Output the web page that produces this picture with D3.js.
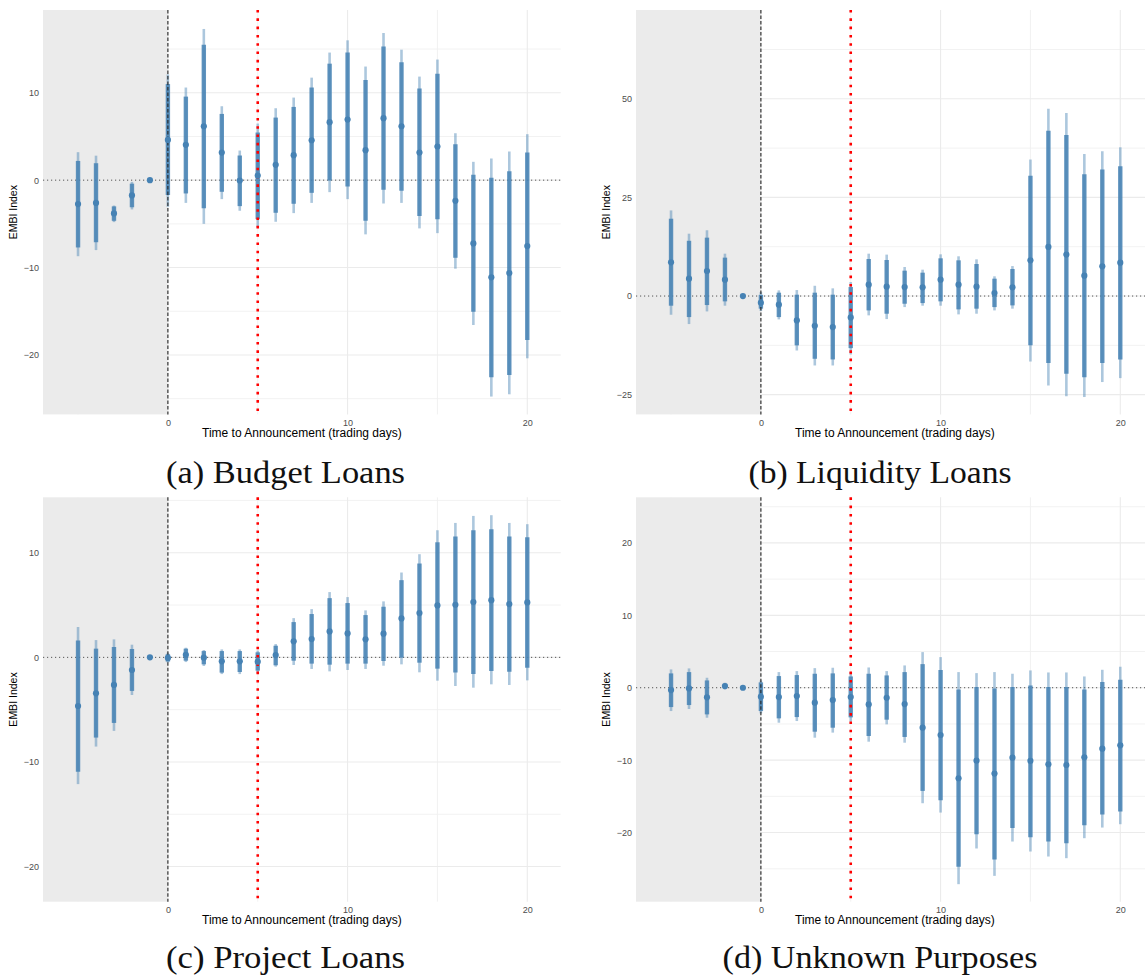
<!DOCTYPE html>
<html>
<head>
<meta charset="utf-8">
<script src="https://cdn.jsdelivr.net/npm/d3@7"></script>
<style>
  body { margin: 0; background: #fff; }
  svg { display: block; }
  .tick text { font-family: "Liberation Sans", Arial, sans-serif; fill: #4d4d4d; }
  .caption { font-family: "Liberation Serif", "Times New Roman", serif; fill: #111; }
</style>
</head>
<body>
<div id="chart"></div>
<script>
// trading days relative to announcement
var days = [-5, -4, -3, -2, -1, 0, 1, 2, 3, 4, 5, 6, 7, 8, 9, 10, 11, 12, 13, 14, 15, 16, 17, 18, 19, 20];
var xTicks = [0, 10, 20];

// (a) budget loans
var budgetEst    = [-2.74, -2.6, -3.8, -1.75, 0, 4.6, 4.04, 6.17, 3.16, -0.04, 0.53, 1.75, 2.86, 4.57, 6.63, 6.93, 3.43, 7.09, 6.17, 3.16, 3.85, -2.36, -7.24, -11.12, -10.63, -7.54];
var budgetHi90   = [2.2, 1.94, -3.0, -0.4, null, 11.0, 9.56, 15.5, 7.58, 2.82, 5.45, 7.16, 8.38, 10.6, 13.33, 14.6, 11.47, 15.28, 13.5, 10.48, 12.19, 4.11, 0.61, 0.27, 1.03, 3.16];
var budgetLo90   = [-7.7, -7.1, -4.65, -3.1, null, -1.7, -1.52, -3.2, -1.33, -2.97, -4.46, -3.73, -2.7, -1.45, -0.04, -0.72, -4.65, -1.1, -1.22, -4.11, -4.46, -8.88, -15.05, -22.55, -22.29, -18.29];
var budgetHi95   = [3.2, 2.8, -2.9, -0.2, null, 12.1, 10.6, 17.3, 8.46, 3.39, 6.48, 8.23, 9.45, 11.73, 14.6, 16.0, 13.0, 16.84, 14.93, 11.85, 13.8, 5.37, 2.1, 2.48, 3.28, 5.26];
var budgetLo95   = [-8.7, -8.0, -4.8, -3.35, null, -3.05, -2.6, -5.0, -2.17, -3.5, -5.4, -4.76, -3.77, -2.6, -1.37, -2.17, -6.2, -2.67, -2.6, -5.52, -6.06, -10.13, -16.57, -24.76, -24.5, -20.38];
var budgetTicks  = [-20, -10, 0, 10];

// (b) liquidity loans
var liquidityEst  = [8.54, 4.4, 6.35, 4.15, 0, -1.69, -2.2, -6.18, -7.53, -7.87, -5.41, 2.88, 2.37, 2.28, 2.2, 4.15, 2.88, 2.37, 0.76, 2.2, 9.05, 12.44, 10.5, 5.16, 7.53, 8.46];
var liquidityHi90 = [19.6, 14.0, 14.8, 9.73, null, 0.3, 0.85, 0.34, 0.85, 0.34, 2.28, 9.39, 9.14, 6.43, 5.92, 9.56, 9.05, 8.12, 4.4, 6.85, 30.46, 41.9, 40.8, 30.9, 32.1, 32.9];
var liquidityLo90 = [-2.45, -5.33, -2.28, -1.35, null, -3.2, -5.33, -12.5, -15.9, -16.07, -13.2, -3.64, -4.48, -1.95, -1.78, -1.35, -3.38, -3.2, -2.8, -2.37, -12.5, -17.0, -19.7, -20.6, -17.0, -16.07];
var liquidityHi95 = [21.7, 15.8, 16.67, 10.74, null, 1.0, 1.44, 1.52, 2.6, 1.95, 3.55, 10.74, 10.5, 7.36, 6.68, 10.57, 10.07, 9.3, 5.0, 7.6, 34.6, 47.5, 46.4, 36.0, 36.7, 37.7];
var liquidityLo95 = [-4.74, -7.1, -3.9, -2.45, null, -3.8, -5.92, -13.8, -17.6, -17.6, -14.8, -4.9, -5.84, -2.8, -2.45, -2.45, -4.65, -4.48, -3.64, -3.2, -16.6, -22.7, -25.4, -25.6, -21.8, -20.8];
var liquidityTicks = [-25, 0, 25, 50];

// (c) project loans
var projectEst  = [-4.65, -3.44, -2.64, -1.21, 0, -0.06, 0.25, -0.03, -0.38, -0.38, -0.41, 0.22, 1.53, 1.75, 2.48, 2.29, 1.72, 2.26, 3.72, 4.23, 4.96, 5.03, 5.28, 5.47, 5.09, 5.25];
var projectHi90 = [1.62, 0.83, 0.99, 0.8, null, 0.3, 0.83, 0.6, 0.6, 0.6, 0.48, 1.11, 3.37, 4.14, 5.66, 5.19, 4.04, 4.84, 7.38, 8.97, 11.0, 11.55, 12.15, 12.25, 11.55, 11.49];
var projectLo90 = [-10.94, -7.67, -6.27, -3.21, null, -0.4, -0.32, -0.67, -1.46, -1.4, -1.27, -0.76, -0.32, -0.6, -0.7, -0.6, -0.6, -0.35, -0.03, -0.51, -1.08, -1.46, -1.59, -1.3, -1.37, -0.99];
var projectHi95 = [2.9, 1.65, 1.72, 1.21, null, 0.45, 0.92, 0.7, 0.76, 0.76, 0.64, 1.27, 3.75, 4.61, 6.24, 5.76, 4.49, 5.35, 8.11, 9.86, 12.15, 12.85, 13.52, 13.59, 12.85, 12.73];
var projectLo95 = [-12.12, -8.53, -7.03, -3.6, null, -0.5, -0.45, -0.83, -1.6, -1.6, -1.46, -0.89, -0.73, -1.11, -1.34, -1.21, -1.11, -0.8, -0.67, -1.43, -2.23, -2.74, -2.9, -2.58, -2.64, -2.2];
var projectTicks = [-20, -10, 0, 10];

// (d) unknown purposes
var unknownEst  = [-0.32, -0.09, -1.33, 0.23, 0, -1.24, -1.29, -1.15, -2.07, -1.7, -1.29, -2.3, -1.38, -2.25, -5.52, -6.53, -12.5, -10.07, -11.86, -9.66, -10.11, -10.57, -10.67, -9.61, -8.41, -7.95];
var unknownHi90 = [1.98, 2.16, 1.01, 0.55, null, 0.74, 1.61, 1.75, 1.93, 1.98, 1.56, 1.93, 1.7, 2.16, 3.26, 2.44, -0.23, 0.09, -0.09, 0.09, 0.32, 0.09, 0.09, -0.23, 0.78, 1.1];
var unknownLo90 = [-2.67, -2.39, -3.68, -0.09, null, -3.22, -4.23, -4.05, -6.07, -5.52, -4.09, -6.67, -4.41, -6.8, -14.25, -15.54, -24.74, -20.23, -23.72, -19.36, -20.64, -21.24, -21.47, -18.99, -17.52, -17.1];
var unknownHi95 = [2.53, 2.67, 1.38, 0.69, null, 1.0, 2.16, 2.3, 2.71, 2.76, 2.16, 2.8, 2.3, 3.08, 4.92, 4.23, 2.16, 2.02, 2.16, 1.93, 2.39, 2.11, 2.11, 1.56, 2.48, 2.9];
var unknownLo95 = [-3.22, -2.94, -4.14, -0.23, null, -3.54, -4.83, -4.6, -6.9, -6.2, -4.69, -7.45, -5.06, -7.59, -15.95, -17.24, -27.13, -22.2, -25.98, -21.24, -22.62, -23.31, -23.54, -20.78, -19.31, -18.85];
var unknownTicks = [-20, -10, 0, 10, 20];

var captions = ["(a) Budget Loans", "(b) Liquidity Loans", "(c) Project Loans", "(d) Unknown Purposes"];

var W = 1145, H = 976;
var pw = 517.7, ph = 404.4;
var announceDay = 0, windowEnd = 5;

var panels = [
  { left: 43,  top: 10,    yDomain: [-26.8, 19.47], est: budgetEst, hi90: budgetHi90, lo90: budgetLo90, hi95: budgetHi95, lo95: budgetLo95, ticks: budgetTicks, caption: captions[0], capX: 285.5, capY: 483, capW: 239 },
  { left: 636, top: 10,    yDomain: [-30.0, 72.5],  est: liquidityEst, hi90: liquidityHi90, lo90: liquidityLo90, hi95: liquidityHi95, lo95: liquidityLo95, ticks: liquidityTicks, caption: captions[1], capX: 880, capY: 483, capW: 263 },
  { left: 43,  top: 497.3, yDomain: [-23.36, 15.3], est: projectEst, hi90: projectHi90, lo90: projectLo90, hi95: projectHi95, lo95: projectLo95, ticks: projectTicks, caption: captions[2], capX: 285.5, capY: 968, capW: 239 },
  { left: 636, top: 497.3, yDomain: [-29.55, 26.3], est: unknownEst, hi90: unknownHi90, lo90: unknownLo90, hi95: unknownHi95, lo95: unknownLo95, ticks: unknownTicks, caption: captions[3], capX: 880, capY: 968, capW: 315 }
];

var svg = d3.select("#chart").append("svg")
  .attr("width", W)
  .attr("height", H);

var x = d3.scaleLinear().domain([-6.95, 21.86]).range([0, pw]);

var drawPanel = function(p) {
  var y = d3.scaleLinear().domain(p.yDomain).range([ph, 0]);

  var rows = days.map(function(d, i) {
    return { day: d, est: p.est[i], hi90: p.hi90[i], lo90: p.lo90[i], hi95: p.hi95[i], lo95: p.lo95[i] };
  });

  var g = svg.append("g")
    .attr("transform", "translate(" + p.left + "," + p.top + ")");

  // minor + major grid, like ggplot theme_minimal
  var step = p.ticks[1] - p.ticks[0];
  var yMinor = [];
  for (var k = -4; k < p.ticks.length + 4; k++) {
    var v = p.ticks[0] + (k + 0.5) * step;
    if (v > p.yDomain[0] && v < p.yDomain[1]) yMinor.push(v);
  }
  var xMinor = [-5, 5, 15];

  g.selectAll(".yminor").data(yMinor).enter().append("line")
    .attr("x1", 0).attr("x2", pw)
    .attr("y1", function(d) { return y(d); }).attr("y2", function(d) { return y(d); })
    .style("stroke", "#f1f1f1").style("stroke-width", 0.9);
  g.selectAll(".xminor").data(xMinor).enter().append("line")
    .attr("x1", function(d) { return x(d); }).attr("x2", function(d) { return x(d); })
    .attr("y1", 0).attr("y2", ph)
    .style("stroke", "#f1f1f1").style("stroke-width", 0.9);
  g.selectAll(".ymajor").data(p.ticks).enter().append("line")
    .attr("x1", 0).attr("x2", pw)
    .attr("y1", function(d) { return y(d); }).attr("y2", function(d) { return y(d); })
    .style("stroke", "#ebebeb").style("stroke-width", 1.1);
  g.selectAll(".xmajor").data(xTicks).enter().append("line")
    .attr("x1", function(d) { return x(d); }).attr("x2", function(d) { return x(d); })
    .attr("y1", 0).attr("y2", ph)
    .style("stroke", "#ebebeb").style("stroke-width", 1.1);

  // pre-announcement shading
  g.append("rect")
    .attr("x", 0).attr("y", 0)
    .attr("width", x(announceDay)).attr("height", ph)
    .style("fill", "#ebebeb");

  // zero line
  g.append("line")
    .attr("x1", 0).attr("x2", pw).attr("y1", y(0)).attr("y2", y(0))
    .style("stroke", "#555").style("stroke-width", 1)
    .style("stroke-dasharray", "1.2,2.8");

  var bars = rows.filter(function(d) { return d.hi95 !== null; });

  // 95% band (thin, light)
  g.selectAll(".ci95").data(bars).enter().append("line")
    .attr("x1", function(d) { return x(d.day); }).attr("x2", function(d) { return x(d.day); })
    .attr("y1", function(d) { return y(d.lo95); }).attr("y2", function(d) { return y(d.hi95); })
    .style("stroke", "steelblue").style("stroke-opacity", 0.45).style("stroke-width", 2.6);

  // 90% band (thick)
  g.selectAll(".ci90").data(bars).enter().append("line")
    .attr("x1", function(d) { return x(d.day); }).attr("x2", function(d) { return x(d.day); })
    .attr("y1", function(d) { return y(d.lo90); }).attr("y2", function(d) { return y(d.hi90); })
    .style("stroke", "steelblue").style("stroke-opacity", 0.85).style("stroke-width", 4.4);

  // announcement + window end, drawn over the bars
  g.append("line")
    .attr("x1", x(announceDay)).attr("x2", x(announceDay)).attr("y1", 0).attr("y2", ph)
    .style("stroke", "#222").style("stroke-width", 1.1)
    .style("stroke-dasharray", "3.5,2");
  g.append("line")
    .attr("x1", x(windowEnd)).attr("x2", x(windowEnd)).attr("y1", 0).attr("y2", ph)
    .style("stroke", "#ff0000").style("stroke-width", 2.6)
    .style("stroke-dasharray", "2.6,5.7");

  g.selectAll(".pt").data(rows).enter().append("circle")
    .attr("cx", function(d) { return x(d.day); })
    .attr("cy", function(d) { return y(d.est); })
    .attr("r", 3.1)
    .style("fill", "steelblue");

  // axes (labels only)
  var xa = g.append("g")
    .attr("transform", "translate(0," + ph + ")")
    .call(d3.axisBottom(x).tickValues(xTicks).tickSize(0).tickPadding(5));
  xa.select(".domain").remove();
  xa.selectAll("text").style("font-size", "9px");

  var ya = g.append("g")
    .call(d3.axisLeft(y).tickValues(p.ticks).tickSize(0).tickPadding(4));
  ya.select(".domain").remove();
  ya.selectAll("text").style("font-size", "9px");

  // x axis label
  g.append("text")
    .attr("x", pw / 2)
    .attr("y", ph + 22.5)
    .style("text-anchor", "middle")
    .style("font-family", "'Liberation Sans', Arial, sans-serif")
    .style("font-size", "12px")
    .text("Time to Announcement (trading days)");

  // y axis label
  g.append("text")
    .attr("transform", "rotate(-90)")
    .attr("x", -ph / 2)
    .attr("y", -26)
    .style("text-anchor", "middle")
    .style("font-family", "'Liberation Sans', Arial, sans-serif")
    .style("font-size", "10.5px")
    .text("EMBI Index");

  // subfigure caption
  svg.append("text")
    .attr("class", "caption")
    .attr("x", p.capX)
    .attr("y", p.capY)
    .attr("textLength", p.capW)
    .attr("lengthAdjust", "spacingAndGlyphs")
    .style("text-anchor", "middle")
    .style("font-size", "32px")
    .text(p.caption);
};

panels.forEach(drawPanel);
</script>
</body>
</html>
